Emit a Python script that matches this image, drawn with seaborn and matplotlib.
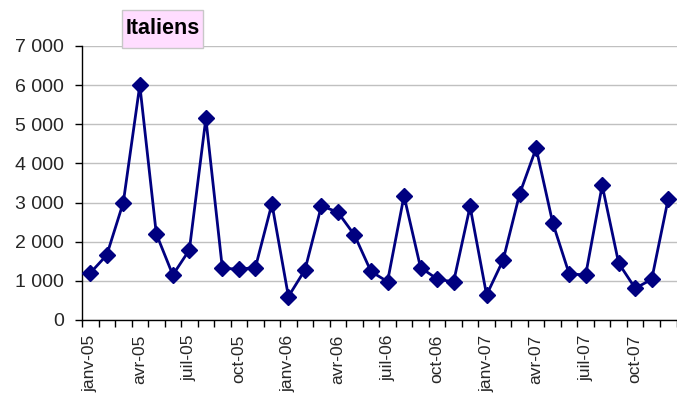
import numpy as np
import pandas as pd
import matplotlib
matplotlib.use("Agg")
import matplotlib.pyplot as plt
from matplotlib.patches import Rectangle
from matplotlib.ticker import FuncFormatter, FixedLocator
import seaborn as sns

# ---- data ----
months = ["janv-05", "févr-05", "mars-05", "avr-05", "mai-05", "juin-05",
          "juil-05", "août-05", "sept-05", "oct-05", "nov-05", "déc-05",
          "janv-06", "févr-06", "mars-06", "avr-06", "mai-06", "juin-06",
          "juil-06", "août-06", "sept-06", "oct-06", "nov-06", "déc-06",
          "janv-07", "févr-07", "mars-07", "avr-07", "mai-07", "juin-07",
          "juil-07", "août-07", "sept-07", "oct-07", "nov-07", "déc-07"]
values = [1200, 1660, 3000, 6000, 2200, 1150, 1790, 5150, 1320, 1300, 1340, 2970,
          600, 1280, 2920, 2750, 2170, 1240, 980, 3170, 1340, 1050, 970, 2900,
          640, 1530, 3220, 4390, 2490, 1180, 1150, 3440, 1450, 810, 1040, 3100]
title = "Italiens"
y_ticks = [0, 1000, 2000, 3000, 4000, 5000, 6000, 7000]

sns.set_style("white")
plt.rcParams["font.family"] = ["Liberation Sans", "DejaVu Sans"]

W, H = 677, 394
fig = plt.figure(figsize=(W / 100, H / 100), dpi=100)
ax = fig.add_axes([82 / W, 1 - 320 / H, (676.5 - 82) / W, 274 / H])

df = pd.DataFrame({"pos": np.arange(len(months)), "value": values})
sns.lineplot(data=df, x="pos", y="value", ax=ax, color="#000080", linewidth=2,
             marker="D", markersize=8, markeredgecolor="#000080",
             markeredgewidth=1, zorder=3)

ax.set_xlim(-0.5, len(months) - 0.5)
ax.set_ylim(0, 7000)
ax.set_xlabel("")
ax.set_ylabel("")

# y axis
ax.yaxis.set_major_locator(FixedLocator(y_ticks))
ax.yaxis.set_major_formatter(FuncFormatter(lambda v, p: f"{int(v):,}".replace(",", " ")))
ax.tick_params(axis="y", which="major", direction="out", length=5, width=1,
               color="black", pad=8, labelsize=14, left=True)
ax.yaxis.grid(True, color="#C0C0C0", linewidth=1)
ax.xaxis.grid(False)
ax.set_axisbelow(True)

# x axis: labels at category centres, ticks at boundaries
tick_pos = list(range(0, len(months), 3))
ax.xaxis.set_major_locator(FixedLocator(tick_pos))
ax.set_xticklabels([months[i] for i in tick_pos], rotation=90, va="top", ha="center")
ax.xaxis.set_minor_locator(FixedLocator(np.arange(-0.5, len(months), 1.0)))
ax.tick_params(axis="x", which="major", length=0, pad=10.5, labelsize=12.5, bottom=True)
ax.tick_params(axis="x", which="minor", direction="out", length=5, width=1,
               color="black", bottom=True)

for s in ["top", "right"]:
    ax.spines[s].set_visible(False)
for s in ["left", "bottom"]:
    ax.spines[s].set_color("black")
    ax.spines[s].set_linewidth(1)

# title box
x0, y0, x1, y1 = 122, 10, 203, 48
fig.patches.append(Rectangle((x0 / W, 1 - y1 / H), (x1 - x0) / W, (y1 - y0) / H,
                             transform=fig.transFigure, facecolor="#FFDDFF",
                             edgecolor="#C8C8C8", linewidth=1, zorder=5))
fig.text((x0 + x1) / 2 / W, 1 - (y0 + y1) / 2 / H, title, ha="center", va="center",
         fontsize=15.5, fontweight="bold", color="black", zorder=6)

fig.savefig("out.png", dpi=100, facecolor="white")
